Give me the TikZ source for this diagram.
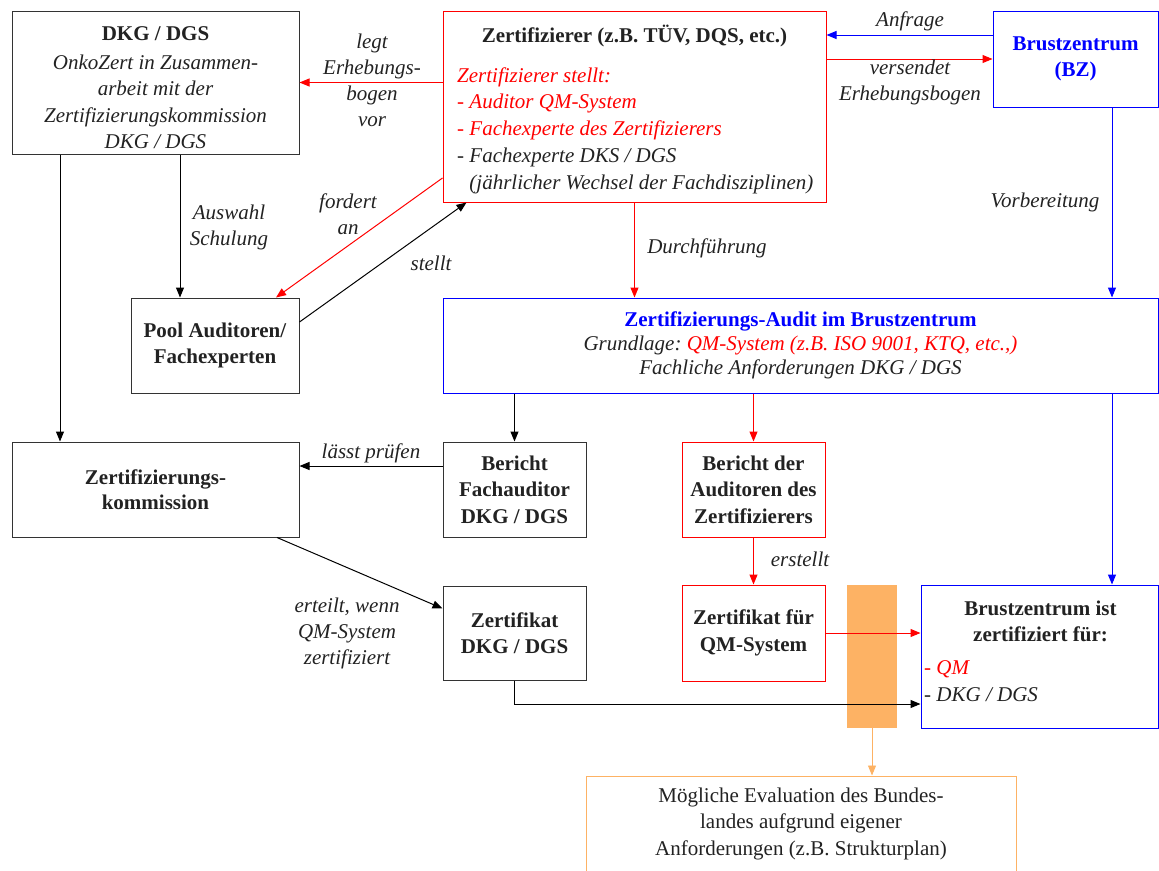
\documentclass[tikz,border=0pt]{standalone}
\usepackage{fontspec}
\setmainfont{Liberation Serif}
\usetikzlibrary{arrows.meta,calc}
\definecolor{ink}{HTML}{222222}
\definecolor{frame}{HTML}{333333}
\definecolor{orng}{RGB}{253,178,100}
\begin{document}
\begin{tikzpicture}[x=1pt,y=-1pt,
  every node/.style={font=\fontsize{21}{26.5}\selectfont, text=ink, inner sep=0pt},
  box/.style={draw=frame, line width=1pt, align=center},
  lbl/.style={font=\fontsize{21}{26}\selectfont\itshape, align=center},
  conn/.style={line width=1pt, -{Triangle[length=10pt,width=8pt]}},
]
\useasboundingbox (0,0) rectangle (1159,870);

% --- boxes ---
\node[box, minimum width=287, minimum height=143] (A) at (155.5,82.5) {};
\node[align=center] (Atext) at (155.5,88)
  {\textbf{DKG / DGS}\\[2pt] \itshape OnkoZert in Zusammen-\\ \itshape arbeit mit der\\ \itshape Zertifizierungskommission\\ \itshape DKG / DGS};

\node[box, draw=red, minimum width=383, minimum height=191] (B) at (634.5,106.5) {};
\node[anchor=base] (Btitle) at (634.5,42) {\textbf{Zertifizierer (z.B. TÜV, DQS, etc.)}};
\node[anchor=west, align=left, font=\fontsize{21}{26.7}\selectfont\itshape] (Blist) at (457,130.5)
  {\textcolor{red}{Zertifizierer stellt:}\\
   \textcolor{red}{- Auditor QM-System}\\
   \textcolor{red}{- Fachexperte des Zertifizierers}\\
   - Fachexperte DKS / DGS\\
   \phantom{- }(jährlicher Wechsel der Fachdisziplinen)};

\node[box, draw=blue, text=blue, minimum width=165, minimum height=96] (C) at (1075.5,59)
  {\textbf{Brustzentrum}\\ \textbf{(BZ)}};

\node[box, minimum width=168, minimum height=95] (Pool) at (215,345.5)
  {\textbf{Pool Auditoren/}\\ \textbf{Fachexperten}};

\node[box, draw=blue, font=\fontsize{21}{24}\selectfont, minimum width=715, minimum height=95] (Au) at (800.5,345.5)
  {\textcolor{blue}{\textbf{Zertifizierungs-Audit im Brustzentrum}}\\
   \textit{Grundlage:}~\textit{\textcolor{red}{QM-System (z.B. ISO 9001, KTQ, etc.,)}}\\
   \textit{Fachliche Anforderungen DKG / DGS}};

\node[box, font=\fontsize{21}{25}\selectfont, minimum width=287, minimum height=95] (ZK) at (155.5,489.5)
  {\textbf{Zertifizierungs-}\\ \textbf{kommission}};

\node[box, minimum width=143, minimum height=95] (BFA) at (514.5,489.5)
  {\textbf{Bericht}\\ \textbf{Fachauditor}\\ \textbf{DKG / DGS}};

\node[box, draw=red, minimum width=143, minimum height=95] (BdA) at (753.5,489.5)
  {\textbf{Bericht der}\\ \textbf{Auditoren des}\\ \textbf{Zertifizierers}};

\node[box, minimum width=143, minimum height=94] (ZDKG) at (514.5,633)
  {\textbf{Zertifikat}\\ \textbf{DKG / DGS}};

\node[box, draw=red, minimum width=143, minimum height=96] (ZQM) at (753.5,633)
  {\textbf{Zertifikat für}\\ \textbf{QM-System}};

% orange marker bar behind the two horizontal connectors
\fill[orng] (847,585) rectangle (897,728);
\node[minimum width=50, minimum height=143] (Or) at (872,656.5) {};

\node[box, draw=blue, minimum width=237, minimum height=143] (BZZ) at (1039.5,656.5) {};
\node[align=center] (BZZtitle) at (1040.5,621.5) {\textbf{Brustzentrum ist}\\ \textbf{zertifiziert für:}};
\node[anchor=west, align=left, font=\fontsize{21}{27}\selectfont\itshape] (BZZlist) at (924,681)
  {\textcolor{red}{- QM}\\ - DKG / DGS};

\node[box, draw=orng, minimum width=430, minimum height=130] (Ev) at (801,841) {};
\node[align=center] (Evtext) at (801,823.5)
  {Mögliche Evaluation des Bundes-\\ landes aufgrund eigener\\ Anforderungen (z.B. Strukturplan)};

% --- connectors ---
\draw[conn, blue] ([yshift=24pt]C.west) -- ([yshift=24pt]C.west -| B.east);
\node[lbl] (lAnfrage) at (910,21) {Anfrage};

\draw[conn, red] (C.west -| B.east) -- (C.west);
\node[lbl] (lversendet) at (910,82) {versendet\\ Erhebungsbogen};

\draw[conn, red] (B.west |- A.east) -- (A.east);
\node[lbl] (llegt) at (372,80) {legt\\ Erhebungs-\\ bogen\\ vor};

\draw[conn, blue] ([xshift=36.5pt]C.south) -- ([xshift=36.5pt]C.south |- Au.north);
\node[lbl] (lVor) at (1045,202) {Vorbereitung};

\draw[conn, red] (B.south) -- (B.south |- Au.north);
\node[lbl] (lDurch) at (707,248) {Durchführung};

\draw[conn, red] ([yshift=-71.5pt]B.west) -- ([xshift=61pt]Pool.north);
\node[lbl] (lfordert) at (348,214) {fordert\\ an};

\draw[conn] ([yshift=23.5pt]Pool.east) -- ([xshift=-168pt]B.south);
\node[lbl] (lstellt) at (431,263) {stellt};

\draw[conn] ([xshift=24.5pt]A.south) -- ([xshift=24.5pt]A.south |- Pool.north);
\node[lbl] (lAuswahl) at (229,227) {Auswahl\\ Schulung};

\draw[conn] ([xshift=-95.5pt]A.south) -- ([xshift=-95.5pt]A.south |- ZK.north);

\draw[conn] (BFA.north |- Au.south) -- (BFA.north);
\draw[conn, red] (BdA.north |- Au.south) -- (BdA.north);
\draw[conn, blue] ([xshift=311.5pt]Au.south) -- ([xshift=311.5pt]Au.south |- BZZ.north);

\draw[conn] ([yshift=23.5pt]BFA.west) -- ([yshift=23.5pt]BFA.west -| ZK.east);
\node[lbl] (llaesst) at (371,453) {lässt prüfen};

\draw[conn] ([xshift=121.5pt]ZK.south) -- ([yshift=-23pt]ZDKG.north west);
\node[lbl] (lerteilt) at (347,633) {erteilt, wenn\\ QM-System\\ zertifiziert};

\draw[conn, red] (BdA.south) -- (ZQM.north);
\node[lbl] (lerstellt) at (800,559) {erstellt};

\draw[conn, red] (ZQM.east) -- (ZQM.east -| BZZ.west);
\draw[conn] (ZDKG.south) |- ([yshift=-47.5pt]BZZ.west);

\draw[conn, orng, line width=0.9pt] (Or.south) -- (Or.south |- Ev.north);
\end{tikzpicture}
\end{document}
